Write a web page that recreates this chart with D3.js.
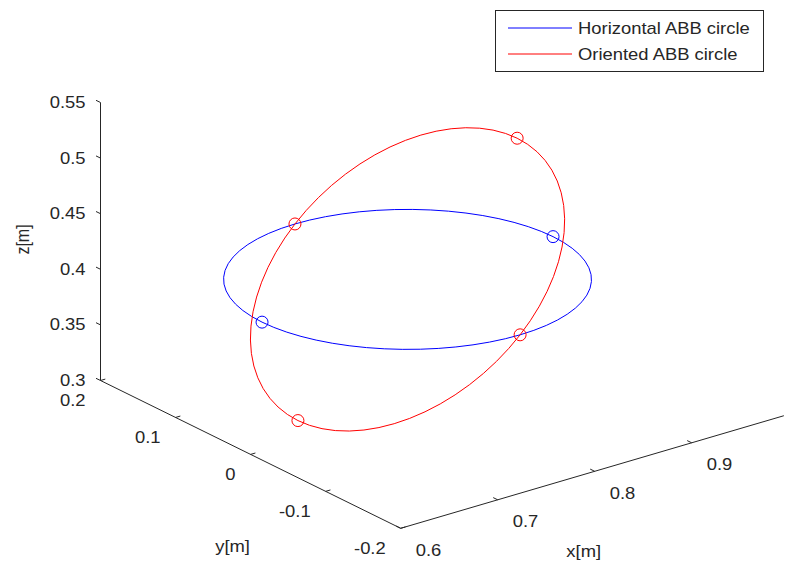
<!DOCTYPE html>
<html lang="en">
<head>
<meta charset="utf-8">
<script src="https://d3js.org/d3.v7.min.js"></script>
<style>
body { margin: 0; background: #fff; }
text { font-family: "Liberation Sans", Arial, sans-serif; font-size: 16px; fill: #262626; }
</style>
</head>
<body>
<script type="text/javascript">

// axis limits and ticks
var xLim = [0.6, 0.995]
var yLim = [0.2, -0.2]
var zLim = [0.3, 0.55]
var xTicks = [0.6, 0.7, 0.8, 0.9]
var yTicks = [0.2, 0.1, 0, -0.1, -0.2]
var zTicks = [0.3, 0.35, 0.4, 0.45, 0.5, 0.55]

// circle points [x, y, z] (markers)
var horizontalPts = [[0.935, 0.03, 0.4], [0.785, 0.18, 0.4], [0.635, 0.03, 0.4], [0.785, -0.12, 0.4]]
var orientedPts = [[0.898, 0.03, 0.498], [0.785, 0.18, 0.4], [0.672, 0.03, 0.302], [0.785, -0.12, 0.4]]

var seriesNames = ["Horizontal ABB circle", "Oriented ABB circle"]
var seriesColors = ["#0000ff", "#ff0000"]

var W = 800, H = 565
var sx = 1.15 // horizontal stretch of the text in the picture

var svg = d3.select("body").append("svg")
  .attr("width", W)
  .attr("height", H)

// oblique projection built from three linear scales
var origin = [100.5, 380.5]
var xs = d3.scaleLinear().domain([0.6, 1.0]).range([[0, 0], [388, -114]])
var ys = d3.scaleLinear().domain([0.2, -0.2]).range([[0, 0], [300.2, 147.8]])
var zs = d3.scaleLinear().domain(zLim).range([0, -278])

function proj(p) {
  var a = xs(p[0]), b = ys(p[1])
  return [origin[0] + a[0] + b[0], origin[1] + a[1] + b[1] + zs(p[2])]
}

var ax = svg.append("g").attr("stroke", "#262626").attr("stroke-width", 1).attr("fill", "none")

function seg(p, q) {
  var a = proj(p), b = proj(q)
  ax.append("line").attr("x1", a[0]).attr("y1", a[1]).attr("x2", b[0]).attr("y2", b[1])
}

seg([xLim[0], yLim[0], zLim[0]], [xLim[0], yLim[0], zLim[1]])
seg([xLim[0], yLim[0], zLim[0]], [xLim[0], yLim[1], zLim[0]])
seg([xLim[0], yLim[1], zLim[0]], [xLim[1], yLim[1], zLim[0]])

// tick marks
var tl = 5
zTicks.forEach(function (v) {
  var p = proj([xLim[0], yLim[0], v])
  ax.append("line").attr("x1", p[0]).attr("y1", p[1]).attr("x2", p[0] - tl * 0.9).attr("y2", p[1] - tl * 0.44)
})
xTicks.forEach(function (v) {
  var p = proj([v, yLim[1], zLim[0]])
  ax.append("line").attr("x1", p[0]).attr("y1", p[1]).attr("x2", p[0] - tl * 0.9).attr("y2", p[1] - tl * 0.44)
})
yTicks.forEach(function (v) {
  var p = proj([xLim[0], v, zLim[0]])
  ax.append("line").attr("x1", p[0]).attr("y1", p[1]).attr("x2", p[0] + tl * 0.96).attr("y2", p[1] - tl * 0.28)
})

function label(x, y, s, anchor, rot) {
  svg.append("text")
    .attr("transform", "translate(" + x + "," + y + ") scale(" + sx + ",1)" + (rot ? " rotate(" + rot + ")" : ""))
    .attr("text-anchor", anchor)
    .attr("dominant-baseline", "central")
    .text(s)
}

zTicks.forEach(function (v) {
  var p = proj([xLim[0], yLim[0], v])
  label(p[0] - 15, p[1], String(v), "end")
})
yTicks.forEach(function (v) {
  var p = proj([xLim[0], v, zLim[0]])
  label(p[0] - 15, p[1] + 20, String(v), "end")
})
xTicks.forEach(function (v) {
  var p = proj([v, yLim[1], zLim[0]])
  label(p[0] + 15, p[1] + 22, String(v), "start")
})

var xl = proj([0.8, yLim[1], zLim[0]])
label(xl[0] - 11, xl[1] + 80, "x[m]", "middle")
var yl = proj([xLim[0], 0, zLim[0]])
label(yl[0] - 18, yl[1] + 92, "y[m]", "middle")
var zl = proj([xLim[0], yLim[0], 0.425])
label(23, zl[1] - 2, "z[m]", "middle", -90)

// points shared by both circles are drawn only once (red on top)
function shared(p, list) {
  return list.some(function (q) { return q[0] === p[0] && q[1] === p[1] && q[2] === p[2] })
}

// circles: ellipse through the projected points (affine image of unit circle)
function drawCircle(pts, color, skip) {
  var P = pts.map(proj)
  var c = [(P[0][0] + P[2][0]) / 2, (P[0][1] + P[2][1]) / 2]
  var u = [P[0][0] - c[0], P[0][1] - c[1]]
  var v = [P[1][0] - c[0], P[1][1] - c[1]]
  svg.append("circle")
    .attr("r", 1)
    .attr("transform", "matrix(" + [u[0], u[1], v[0], v[1], c[0], c[1]].join(",") + ")")
    .attr("fill", "none")
    .attr("stroke", color)
    .attr("stroke-width", 1)
    .attr("vector-effect", "non-scaling-stroke")
  var marks = pts.filter(function (p) { return !skip || !shared(p, skip) })
  svg.append("g").selectAll("circle")
    .data(marks)
    .enter()
    .append("circle")
    .attr("cx", function (d) { return proj(d)[0] })
    .attr("cy", function (d) { return proj(d)[1] })
    .attr("r", 6)
    .attr("fill", "none")
    .attr("stroke", color)
    .attr("stroke-width", 1)
}

drawCircle(horizontalPts, seriesColors[0], orientedPts)
drawCircle(orientedPts, seriesColors[1])

// legend
var lg = svg.append("g")
lg.append("rect").attr("x", 495.5).attr("y", 10.5).attr("width", 268).attr("height", 61)
  .attr("fill", "#fff").attr("stroke", "#262626").attr("stroke-width", 1)
seriesNames.forEach(function (n, i) {
  var y = 28 + i * 26
  lg.append("line").attr("x1", 508).attr("x2", 572).attr("y1", y).attr("y2", y)
    .attr("stroke", seriesColors[i]).attr("stroke-width", 1)
  label(578, y, n, "start")
})

</script>
</body>
</html>
